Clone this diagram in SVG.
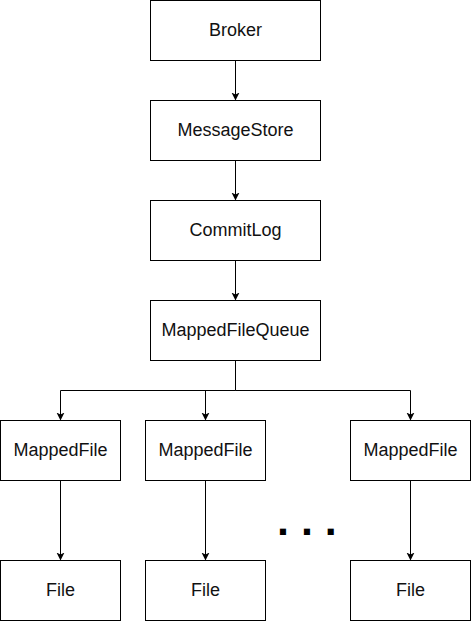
<svg xmlns="http://www.w3.org/2000/svg" width="471" height="621" viewBox="0 0 471 621">
<defs>
<style>
.box{fill:#fff;stroke:#000;stroke-width:1}
.lbl{font-family:"Liberation Sans",Arial,sans-serif;font-size:18px;fill:#111;text-anchor:middle;dominant-baseline:central}
.edge{fill:none;stroke:#000;stroke-width:1}
</style>
<marker id="arr" markerWidth="8" markerHeight="9" refX="7" refY="4" orient="auto" markerUnits="userSpaceOnUse" viewBox="0 0 8 8">
<path d="M0,0 L8,4 L0,8 L2,4 Z" fill="#000"/>
</marker>
</defs>
<rect width="471" height="621" fill="#fff"/>
<g id="connectors">
<path class="edge" d="M235.5,60.5 V99.5" marker-end="url(#arr)"/>
<path class="edge" d="M235.5,160.5 V199.5" marker-end="url(#arr)"/>
<path class="edge" d="M235.5,260.5 V299.5" marker-end="url(#arr)"/>
<path class="edge" d="M235.5,360.5 V390.5 H60.5 V419.5" marker-end="url(#arr)"/>
<path class="edge" d="M235.5,390.5 H205.5 V419.5" marker-end="url(#arr)"/>
<path class="edge" d="M235.5,390.5 H410.5 V419.5" marker-end="url(#arr)"/>
<path class="edge" d="M60.5,480.5 V559.5" marker-end="url(#arr)"/>
<path class="edge" d="M205.5,480.5 V559.5" marker-end="url(#arr)"/>
<path class="edge" d="M410.5,480.5 V559.5" marker-end="url(#arr)"/>
</g>
<g id="broker"><rect class="box" x="150.5" y="0.5" width="170" height="60"/><text class="lbl" x="235.5" y="29.5">Broker</text></g>
<g id="messagestore"><rect class="box" x="150.5" y="100.5" width="170" height="60"/><text class="lbl" x="235.5" y="129.5">MessageStore</text></g>
<g id="commitlog"><rect class="box" x="150.5" y="200.5" width="170" height="60"/><text class="lbl" x="235.5" y="229.5">CommitLog</text></g>
<g id="mappedfilequeue"><rect class="box" x="150.5" y="300.5" width="170" height="60"/><text class="lbl" x="235.5" y="329.5">MappedFileQueue</text></g>
<g id="mappedfile1"><rect class="box" x="0.5" y="420.5" width="120" height="60"/><text class="lbl" x="60.5" y="449.5">MappedFile</text></g>
<g id="mappedfile2"><rect class="box" x="145.5" y="420.5" width="120" height="60"/><text class="lbl" x="205.5" y="449.5">MappedFile</text></g>
<g id="mappedfile3"><rect class="box" x="350.5" y="420.5" width="120" height="60"/><text class="lbl" x="410.5" y="449.5">MappedFile</text></g>
<g id="file1"><rect class="box" x="0.5" y="560.5" width="120" height="60"/><text class="lbl" x="60.5" y="589.5">File</text></g>
<g id="file2"><rect class="box" x="145.5" y="560.5" width="120" height="60"/><text class="lbl" x="205.5" y="589.5">File</text></g>
<g id="file3"><rect class="box" x="350.5" y="560.5" width="120" height="60"/><text class="lbl" x="410.5" y="589.5">File</text></g>
<g id="ellipsis"><text x="277" y="535" font-family="'Liberation Sans',Arial,sans-serif" font-weight="bold" font-size="43" fill="#000">. . .</text></g>
</svg>
